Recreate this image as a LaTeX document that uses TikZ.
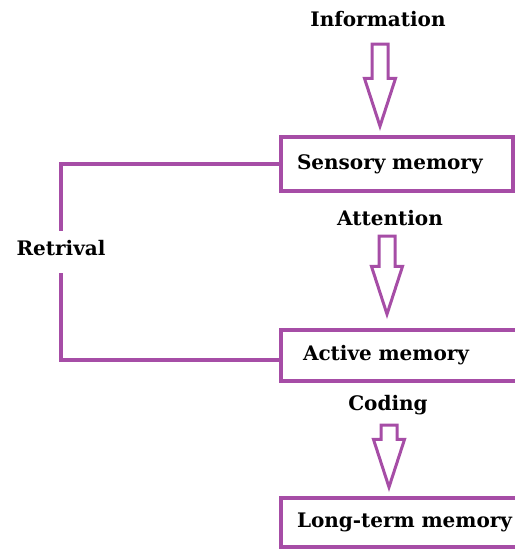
\documentclass[tikz,border=0pt]{standalone}
\usepackage{fontspec}
\setmainfont{DejaVu Serif}
\usetikzlibrary{shapes.arrows}
\definecolor{memPurple}{RGB}{166,77,166}
\tikzset{
  lbl/.style={font=\bfseries\fontsize{20}{23}\selectfont, inner sep=1pt},
  memBox/.style={rectangle, draw=memPurple, line width=4pt, anchor=north west, align=left, font=\bfseries\fontsize{20}{23}\selectfont},
  flow/.style={single arrow, draw=memPurple, line width=3pt, shape border rotate=270, inner sep=6.5pt, single arrow head extend=7.5pt, single arrow tip angle=36, minimum width=28pt, anchor=tip},
  link/.style={draw=memPurple, line width=4pt}
}
\begin{document}
\begin{tikzpicture}[x=1pt,y=-1pt]
\useasboundingbox (0,0) rectangle (515,550);

% Stages
\node[memBox, text width=200pt, inner xsep=16pt, minimum height=54pt] (sens) at (279,135) {Sensory memory};
\node[memBox, text width=230pt, inner xsep=22pt, minimum height=51pt] (act) at (279,328) {Active memory};
\node[memBox, text width=230pt, inner xsep=16pt, minimum height=49pt] (ltm) at (279,496) {Long-term memory};

% Labels
\node[lbl] (info) at (378,19) {Information};
\node[lbl] (attn) at (390,218) {Attention};
\node[lbl] (code) at (388,405) {Coding};
\node[lbl] (retr) at (61,248) {Retrival};

% Hollow arrows
\node[flow, minimum height=82pt] (a1) at (380,131) {};
\node[flow, minimum height=78pt] (a2) at (387,319) {};
\node[flow, minimum height=62pt] (a3) at (389,492) {};

% Retrieval bracket
\draw[link, shorten >=8pt] (sens.west) -| (retr.north);
\draw[link, shorten >=16pt] ([yshift=-4pt]act.west) -| (retr.south);

\end{tikzpicture}
\end{document}
